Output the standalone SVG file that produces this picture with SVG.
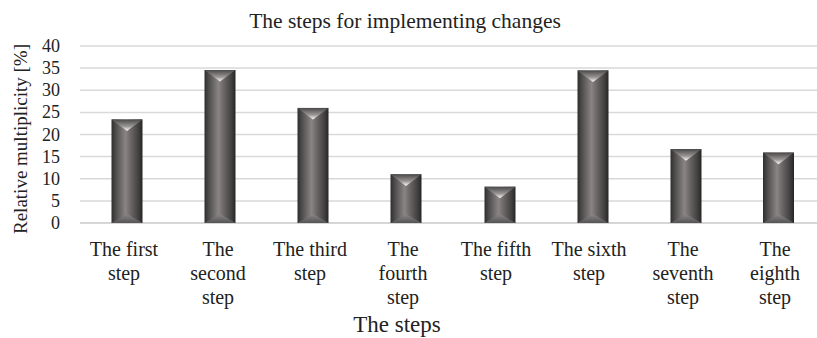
<svg xmlns="http://www.w3.org/2000/svg" width="817" height="338" viewBox="0 0 817 338">
<defs>
<style>
text{font-family:"Liberation Serif","Times New Roman",serif;fill:#222}
.tick{font-size:18px;text-anchor:end}
.cat{font-size:20px;text-anchor:middle}
.grid{stroke:#d9d9d9;stroke-width:1.5}
.body{fill:url(#barG)}
.topb{fill:url(#topG)}
.botb{fill:url(#botG)}
</style>
<linearGradient id="barG" x1="0" y1="0" x2="1" y2="0">
<stop offset="0" stop-color="#2e2e2e"/>
<stop offset="0.12" stop-color="#4a4848"/>
<stop offset="0.45" stop-color="#8a8584"/>
<stop offset="0.6" stop-color="#6e6a69"/>
<stop offset="0.88" stop-color="#403e3e"/>
<stop offset="1" stop-color="#262626"/>
</linearGradient>
<linearGradient id="topG" x1="0" y1="0" x2="0" y2="1">
<stop offset="0" stop-color="#4a4848"/>
<stop offset="0.6" stop-color="#9a9696"/>
<stop offset="1" stop-color="#ffffff"/>
</linearGradient>
<linearGradient id="botG" x1="0" y1="1" x2="0" y2="0">
<stop offset="0" stop-color="#555"/>
<stop offset="1" stop-color="#8a8686"/>
</linearGradient>
</defs>
<rect width="817" height="338" fill="#fff"/>
<text x="405" y="28" style="font-size:21.5px;text-anchor:middle">The steps for implementing changes</text>
<g id="grid">
<line class="grid" x1="80" y1="46" x2="817" y2="46"/>
<line class="grid" x1="80" y1="68.1" x2="817" y2="68.1"/>
<line class="grid" x1="80" y1="90.3" x2="817" y2="90.3"/>
<line class="grid" x1="80" y1="112.4" x2="817" y2="112.4"/>
<line class="grid" x1="80" y1="134.5" x2="817" y2="134.5"/>
<line class="grid" x1="80" y1="156.6" x2="817" y2="156.6"/>
<line class="grid" x1="80" y1="178.8" x2="817" y2="178.8"/>
<line class="grid" x1="80" y1="200.9" x2="817" y2="200.9"/>
<line x1="80" y1="223" x2="817" y2="223" stroke="#c8c8c8" stroke-width="1.5"/>
</g>
<g id="yaxis">
<text class="tick" x="60" y="52">40</text>
<text class="tick" x="60" y="74.1">35</text>
<text class="tick" x="60" y="96.3">30</text>
<text class="tick" x="60" y="118.4">25</text>
<text class="tick" x="60" y="140.5">20</text>
<text class="tick" x="60" y="162.6">15</text>
<text class="tick" x="60" y="184.8">10</text>
<text class="tick" x="60" y="206.9">5</text>
<text class="tick" x="60" y="229">0</text>
<text transform="translate(27,139) rotate(-90)" style="font-size:19px;text-anchor:middle">Relative multiplicity [%]</text>
</g>
<g id="bar1"><rect class="body" x="111.5" y="119.4" width="31" height="103.6"/><polygon class="topb" points="111.5,119.4 142.5,119.4 127,131"/><polygon class="botb" points="111.5,223 142.5,223 127,214"/></g>
<g id="bar2"><rect class="body" x="204.5" y="70" width="31" height="153"/><polygon class="topb" points="204.5,70 235.5,70 220,81.6"/><polygon class="botb" points="204.5,223 235.5,223 220,214"/></g>
<g id="bar3"><rect class="body" x="297.5" y="107.9" width="31" height="115.1"/><polygon class="topb" points="297.5,107.9 328.5,107.9 313,119.5"/><polygon class="botb" points="297.5,223 328.5,223 313,214"/></g>
<g id="bar4"><rect class="body" x="390.5" y="174.3" width="31" height="48.7"/><polygon class="topb" points="390.5,174.3 421.5,174.3 406,185.9"/><polygon class="botb" points="390.5,223 421.5,223 406,214"/></g>
<g id="bar5"><rect class="body" x="484.5" y="186.7" width="31" height="36.3"/><polygon class="topb" points="484.5,186.7 515.5,186.7 500,198.3"/><polygon class="botb" points="484.5,223 515.5,223 500,214"/></g>
<g id="bar6"><rect class="body" x="577.5" y="70.4" width="31" height="152.6"/><polygon class="topb" points="577.5,70.4 608.5,70.4 593,82"/><polygon class="botb" points="577.5,223 608.5,223 593,214"/></g>
<g id="bar7"><rect class="body" x="670.5" y="149.1" width="31" height="73.9"/><polygon class="topb" points="670.5,149.1 701.5,149.1 686,160.7"/><polygon class="botb" points="670.5,223 701.5,223 686,214"/></g>
<g id="bar8"><rect class="body" x="763" y="152.6" width="31" height="70.4"/><polygon class="topb" points="763,152.6 794,152.6 778.5,164.2"/><polygon class="botb" points="763,223 794,223 778.5,214"/></g>
<g id="labels">
<text class="cat" x="124" y="256">The first<tspan x="124" dy="24">step</tspan></text>
<text class="cat" x="218" y="256">The<tspan x="218" dy="24">second</tspan><tspan x="218" dy="24">step</tspan></text>
<text class="cat" x="310" y="256">The third<tspan x="310" dy="24">step</tspan></text>
<text class="cat" x="403" y="256">The<tspan x="403" dy="24">fourth</tspan><tspan x="403" dy="24">step</tspan></text>
<text class="cat" x="496" y="256">The fifth<tspan x="496" dy="24">step</tspan></text>
<text class="cat" x="589" y="256">The sixth<tspan x="589" dy="24">step</tspan></text>
<text class="cat" x="683" y="256">The<tspan x="683" dy="24">seventh</tspan><tspan x="683" dy="24">step</tspan></text>
<text class="cat" x="775" y="256">The<tspan x="775" dy="24">eighth</tspan><tspan x="775" dy="24">step</tspan></text>
<text x="397" y="332" style="font-size:23px;text-anchor:middle">The steps</text>
</g>
</svg>
